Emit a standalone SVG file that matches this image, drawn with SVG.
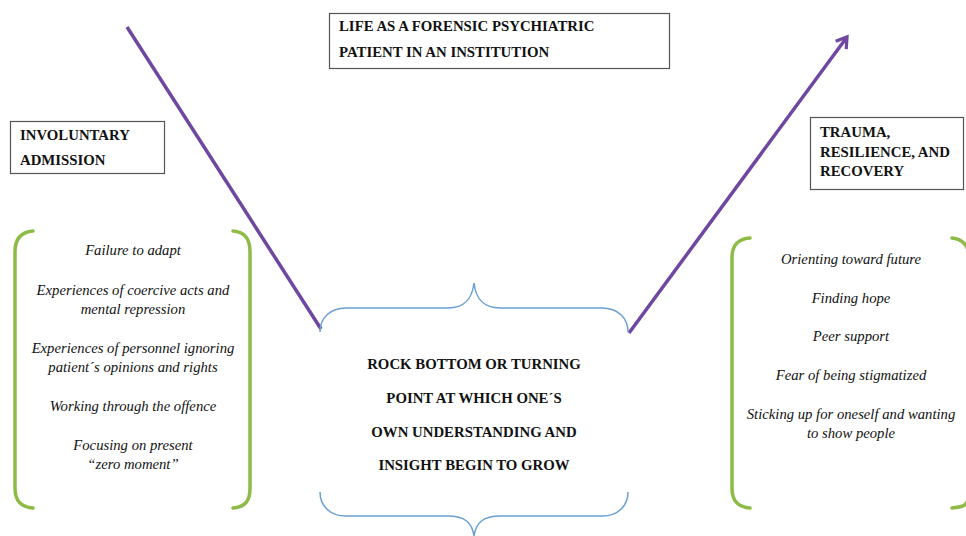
<svg xmlns="http://www.w3.org/2000/svg" width="966" height="536" viewBox="0 0 966 536">
<defs>
<style>
.box{fill:#fff;stroke:#555;stroke-width:1.2}
.hd{font-family:"Liberation Serif","Times New Roman",Times,"DejaVu Serif",serif;font-weight:bold;font-size:14.8px;fill:#111}
.it{font-family:"Liberation Serif","Times New Roman",Times,"DejaVu Serif",serif;font-style:italic;font-size:14.7px;fill:#111;text-anchor:middle}
.br{fill:none;stroke:#8dbb45;stroke-width:3.5;stroke-linecap:round}
.cb{fill:none;stroke:#6a9fd4;stroke-width:1.5}
.ln{fill:none;stroke:#6f47a0;stroke-width:3.5}
</style>
<marker id="ah" viewBox="0 0 12 12" refX="9" refY="6" markerWidth="5" markerHeight="5" orient="auto" markerUnits="strokeWidth">
<polyline points="2,1.5 9,6 2,10.5" fill="none" stroke="#6f47a0" stroke-width="2.2" stroke-linejoin="miter"/>
</marker>
</defs>
<rect width="966" height="536" fill="#fff"/>
<g id="connectors">
<line class="ln" x1="127" y1="27" x2="321" y2="329"/>
<line class="ln" x1="629" y1="333" x2="847" y2="37" marker-end="url(#ah)"/>
</g>
<g id="life">
<rect class="box" x="329.5" y="13.5" width="340" height="55"/>
<text class="hd" x="339" y="31">LIFE AS A FORENSIC PSYCHIATRIC</text>
<text class="hd" x="339" y="57">PATIENT IN AN INSTITUTION</text>
</g>
<g id="involuntary">
<rect class="box" x="10.5" y="121.5" width="154" height="52"/>
<text class="hd" x="20" y="140">INVOLUNTARY</text>
<text class="hd" x="20" y="165">ADMISSION</text>
</g>
<g id="trauma">
<rect class="box" x="810.5" y="117.5" width="153" height="72"/>
<text class="hd" x="820" y="137">TRAUMA,</text>
<text class="hd" x="820" y="157">RESILIENCE, AND</text>
<text class="hd" x="820" y="176">RECOVERY</text>
</g>
<g id="left-list">
<path class="br" d="M33,231 C20,232 15,240 15,252 L15,488 C15,500 20,507 33,508"/>
<path class="br" d="M233,231 C246,232 250,240 250,252 L250,488 C250,500 246,507 233,508"/>
<text class="it" x="133" y="255">Failure to adapt</text>
<text class="it" x="133" y="295">Experiences of coercive acts and</text>
<text class="it" x="133" y="314">mental repression</text>
<text class="it" x="133" y="353">Experiences of personnel ignoring</text>
<text class="it" x="133" y="372">patient´s opinions and rights</text>
<text class="it" x="133" y="411">Working through the offence</text>
<text class="it" x="133" y="450">Focusing on present</text>
<text class="it" x="133" y="469">“zero moment”</text>
</g>
<g id="rock-bottom">
<path class="cb" d="M320,332 C320,318 330,308 346,308 L448,308 C464,308 472,300 474,283 C476,300 484,308 500,308 L602,308 C618,308 628,318 628,332"/>
<path class="cb" d="M320,492 C320,506 330,516 346,516 L448,516 C464,516 472,522 474,536 C476,522 484,516 500,516 L602,516 C618,516 628,506 628,492"/>
<text class="hd" x="474" y="369" text-anchor="middle">ROCK BOTTOM OR TURNING</text>
<text class="hd" x="474" y="403" text-anchor="middle">POINT AT WHICH ONE´S</text>
<text class="hd" x="474" y="437" text-anchor="middle">OWN UNDERSTANDING AND</text>
<text class="hd" x="474" y="470" text-anchor="middle">INSIGHT BEGIN TO GROW</text>
</g>
<g id="right-list">
<path class="br" d="M750,238 C737,239 732,246 732,258 L732,488 C732,500 737,507 750,508"/>
<path class="br" d="M952,238 C962,239 966,244 968,250 M968,500 C966,506 962,507 952,508"/>
<text class="it" x="851" y="264">Orienting toward future</text>
<text class="it" x="851" y="303">Finding hope</text>
<text class="it" x="851" y="341">Peer support</text>
<text class="it" x="851" y="380">Fear of being stigmatized</text>
<text class="it" x="851" y="419">Sticking up for oneself and wanting</text>
<text class="it" x="851" y="438">to show people</text>
</g>
</svg>
